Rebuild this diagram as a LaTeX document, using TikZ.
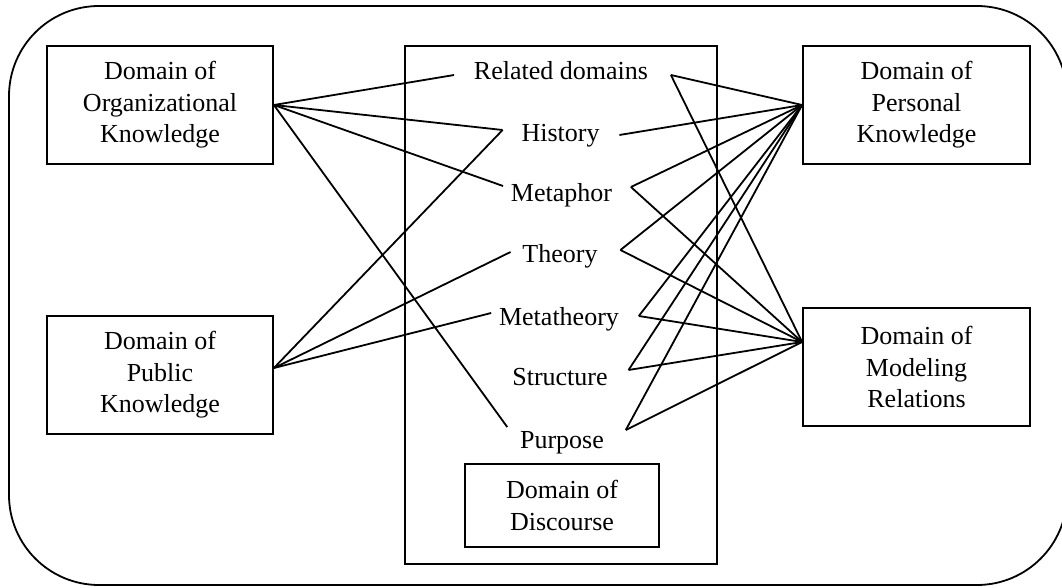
\documentclass[tikz,border=0pt]{standalone}
\usepackage{fontspec}
\setmainfont{Liberation Serif}
\begin{document}
\begin{tikzpicture}[x=0.5pt,y=-0.5pt, line width=0.9pt,
  txt/.style={font=\fontsize{13pt}{15.75pt}\selectfont},
  box/.style={txt, draw, align=center, inner sep=0pt, minimum width=113pt, minimum height=59pt},
  lbl/.style={txt, inner sep=0pt, anchor=base},
  conn/.style={line width=0.9pt}]
\clip (0,0) rectangle (1062,588);
\draw[rounded corners=45pt] (9,6) rectangle (1067,585);
% boxes
\node[box] (org) at (160,105) {Domain of\\Organizational\\Knowledge};
\node[box] (pub) at (160,375) {Domain of\\Public\\Knowledge};
\node[box, minimum width=113.5pt] (pers) at (916.5,105) {Domain of\\Personal\\Knowledge};
\node[box, minimum width=113.5pt] (mod) at (916.5,367) {Domain of\\Modeling\\Relations};
\node[draw, inner sep=0pt, minimum width=156pt, minimum height=259pt] (frame) at (561,305) {};
\node[box, minimum width=97pt, minimum height=41.5pt] (disc) at (562,505.5) {Domain of\\Discourse};
% labels
\node[lbl] (rel) at (561,80) {Related domains};
\node[lbl] (hist) at (560.5,142) {History};
\node[lbl] (meta) at (561.5,202) {Metaphor};
\node[lbl] (theo) at (560,263) {Theory};
\node[lbl] (mtheo) at (559,326) {Metatheory};
\node[lbl] (struc) at (560,386) {Structure};
\node[lbl] (purp) at (562,449) {Purpose};
% end points
\coordinate (relL) at ([shift={(-9.5pt,2.5pt)}]rel.base west);
\coordinate (relR) at ([shift={(11pt,2.5pt)}]rel.base east);
\coordinate (histL) at ([shift={(-9pt,6pt)}]hist.base west);
\coordinate (histR) at ([shift={(9.5pt,3.5pt)}]hist.base east);
\coordinate (metaL) at ([shift={(-3.5pt,8pt)}]meta.base west);
\coordinate (metaR) at ([shift={(9pt,7.5pt)}]meta.base east);
\coordinate (theoL) at ([shift={(-5.5pt,5.5pt)}]theo.base west);
\coordinate (theoR) at ([shift={(11pt,6.5pt)}]theo.base east);
\coordinate (mtheoL) at ([shift={(-3.5pt,6.5pt)}]mtheo.base west);
\coordinate (mtheoR) at ([shift={(9.5pt,5pt)}]mtheo.base east);
\coordinate (strucR) at ([shift={(10pt,8pt)}]struc.base east);
\coordinate (purpL) at ([shift={(-6pt,11pt)}]purp.base west);
\coordinate (purpR) at ([shift={(10.5pt,9.5pt)}]purp.base east);
\coordinate (orgP) at (org.east);
\coordinate (pubP) at ([yshift=3.5pt]pub.east);
\coordinate (persP) at (pers.west);
\coordinate (modP) at ([yshift=12.5pt]mod.west);
% connectors
\foreach \e in {relL,histL,metaL,purpL} \draw[conn] (orgP) -- (\e);
\foreach \e in {histL,theoL,mtheoL} \draw[conn] (pubP) -- (\e);
\foreach \e in {relR,histR,metaR,theoR,mtheoR,strucR,purpR} \draw[conn] (persP) -- (\e);
\foreach \e in {relR,metaR,theoR,mtheoR,strucR,purpR} \draw[conn] (modP) -- (\e);
\end{tikzpicture}
\end{document}
